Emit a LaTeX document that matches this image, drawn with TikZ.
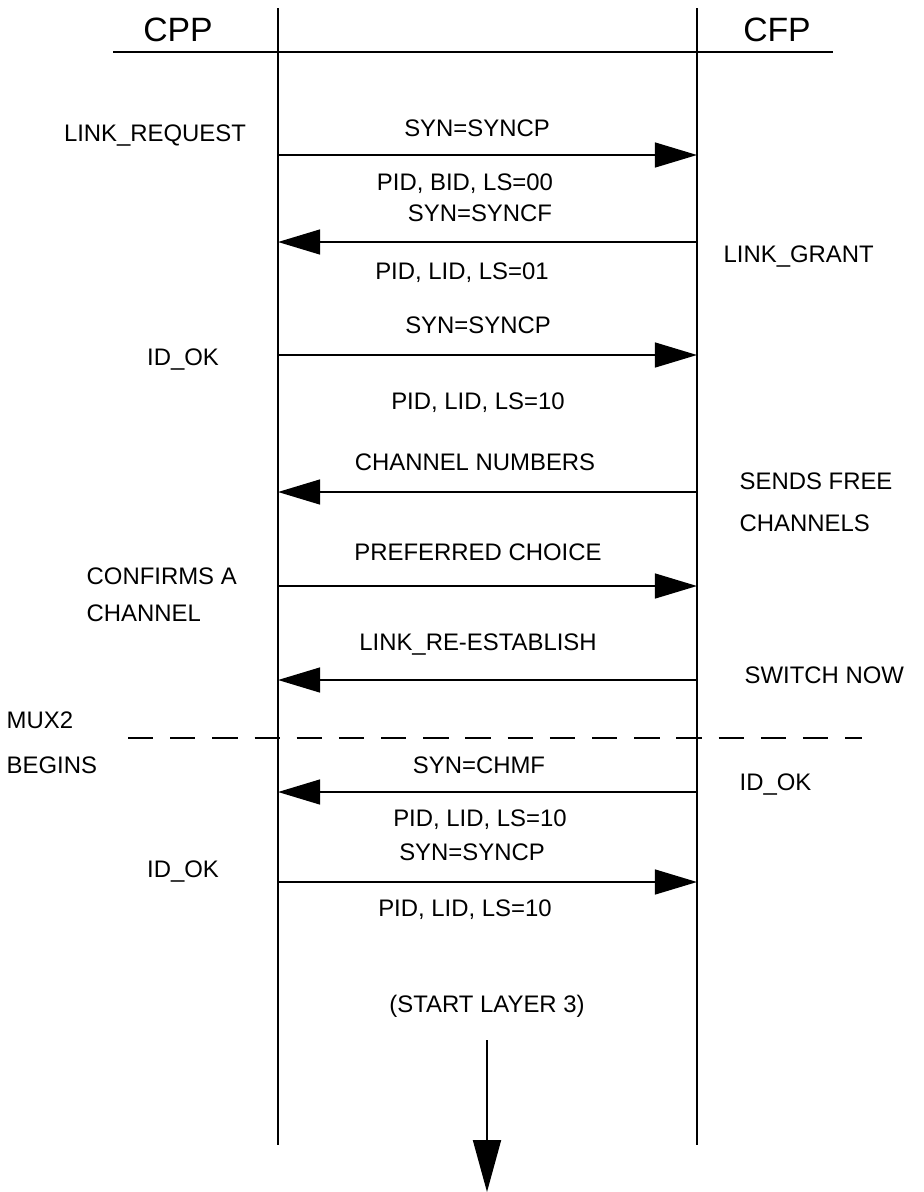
\documentclass[tikz,border=0pt]{standalone}
\usepackage{fontspec}
\setmainfont{Liberation Sans}
\usetikzlibrary{arrows.meta}
\begin{document}
\begin{tikzpicture}[
        x=0.025cm, y=-0.025cm,
        every node/.style={font=\fontsize{17}{24}\selectfont, inner sep=1pt},
        head/.style={font=\fontsize{24}{26}\selectfont},
        note/.style={align=left, anchor=west},
        life/.style={line width=1.1pt},
        sig/.style={-{Triangle[length=1.05cm, width=0.62cm]}, line width=1.4pt}
    ]
        \useasboundingbox (0,0) rectangle (923,1192);

        % lifelines and header
        \coordinate (cppTop) at (278,8);
        \coordinate (cppEnd) at (278,1145);
        \coordinate (cfpTop) at (697,8);
        \coordinate (cfpEnd) at (697,1145);
        \coordinate (hdrL) at (113,52);
        \coordinate (hdrR) at (833,52);
        \draw[life] (cppTop) -- (cppEnd);
        \draw[life] (cfpTop) -- (cfpEnd);
        \draw[line width=1.3pt] (hdrL) -- (hdrR);
        \node[head] (cpp) at (178,30) {CPP};
        \node[head] (cfp) at (777,30) {CFP};

        % message end points
        \foreach \n/\y in {1/155, 2/242, 3/355, 4/492, 5/586, 6/680, 7/792, 8/882} {
            \coordinate (l\n) at (278,\y);
            \coordinate (r\n) at (697,\y);
        }

        % link request
        \draw[sig] (l1) -- (r1);
        \node (m1a) at (477,128) {SYN=SYNCP};
        \node (m1b) at (465,184) {PID, BID, LS=00};
        \node (n1) at (155,136) {LINK\_REQUEST};

        % link grant
        \draw[sig] (r2) -- (l2);
        \node (m2a) at (480,213) {SYN=SYNCF};
        \node (m2b) at (462,273) {PID, LID, LS=01};
        \node[note] (n2) at (722,257) {LINK\_GRANT};

        % id ok
        \draw[sig] (l3) -- (r3);
        \node (m3a) at (478,325) {SYN=SYNCP};
        \node (m3b) at (478,403) {PID, LID, LS=10};
        \node (n3) at (183,360) {ID\_OK};

        % free channels
        \draw[sig] (r4) -- (l4);
        \node (m4a) at (475,462) {CHANNEL NUMBERS};
        \node[note] (n4) at (738,502) {SENDS FREE\\[6pt]CHANNELS};

        % preferred choice
        \draw[sig] (l5) -- (r5);
        \node (m5a) at (478,552) {PREFERRED CHOICE};
        \node[note] (n5) at (85,595) {CONFIRMS A\\[2pt]CHANNEL};

        % switch
        \draw[sig] (r6) -- (l6);
        \node (m6a) at (478,645) {LINK\_RE-ESTABLISH};
        \node[note] (n6) at (743,675) {SWITCH NOW};

        % mux2
        \coordinate (muxL) at (128,738);
        \coordinate (muxR) at (862,738);
        \draw[line width=1.4pt, dash pattern=on 18pt off 12pt] (muxL) -- (muxR);
        \node[note] (mux) at (5,743) {MUX2\\[8pt]BEGINS};

        \draw[sig] (r7) -- (l7);
        \node (m7a) at (479,765) {SYN=CHMF};
        \node (m7b) at (480,820) {PID, LID, LS=10};
        \node[note] (n7) at (738,785) {ID\_OK};

        \draw[sig] (l8) -- (r8);
        \node (m8a) at (472,852) {SYN=SYNCP};
        \node (m8b) at (465,910) {PID, LID, LS=10};
        \node (n8) at (183,872) {ID\_OK};

        % layer 3
        \node (layer) at (487,1006) {(START LAYER 3)};
        \coordinate (up) at (487,1040);
        \coordinate (down) at (487,1192);
        \draw[-{Triangle[length=1.3cm, width=0.7cm]}, line width=1.4pt] (up) -- (down);
    \end{tikzpicture}
\end{document}
